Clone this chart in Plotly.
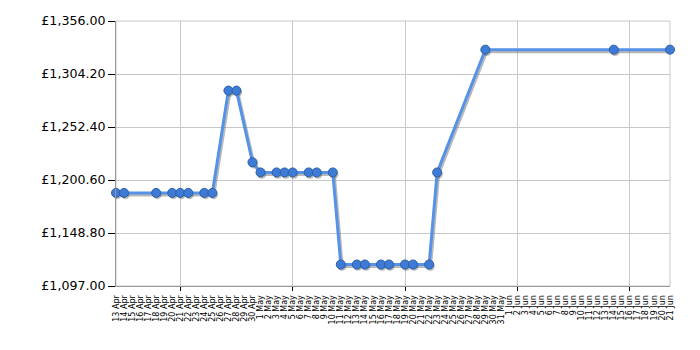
import plotly.graph_objects as go
import pandas as pd

dates = ["2024-04-13", "2024-04-14", "2024-04-18", "2024-04-20", "2024-04-21", "2024-04-22",
         "2024-04-24", "2024-04-25", "2024-04-27", "2024-04-28", "2024-04-30", "2024-05-01",
         "2024-05-03", "2024-05-04", "2024-05-05", "2024-05-07", "2024-05-08", "2024-05-10",
         "2024-05-11", "2024-05-13", "2024-05-14", "2024-05-16", "2024-05-17", "2024-05-19",
         "2024-05-20", "2024-05-22", "2024-05-23", "2024-05-29", "2024-06-14", "2024-06-21"]
prices = [1188, 1188, 1188, 1188, 1188, 1188,
          1188, 1188, 1288, 1288, 1218, 1208,
          1208, 1208, 1208, 1208, 1208, 1208,
          1118, 1118, 1118, 1118, 1118, 1118,
          1118, 1118, 1208, 1328, 1328, 1328]

y_ticks = [1097.00, 1148.80, 1200.60, 1252.40, 1304.20, 1356.00]
y_labels = ["£1,097.00", "£1,148.80", "£1,200.60", "£1,252.40", "£1,304.20", "£1,356.00"]

day_ticks = pd.date_range("2024-04-13", "2024-06-21", freq="D")
day_labels = [f"{d.day} {d.strftime('%b')}" for d in day_ticks]
grid_ticks = pd.date_range("2024-04-21", "2024-06-21", freq="14D")

x0, x1 = pd.Timestamp("2024-04-13"), pd.Timestamp("2024-06-21")
ymin, ymax = 1097.0, 1356.0
plot_w, plot_h = 555.0, 265.0
px_day = (x1 - x0) / plot_w   # timedelta per pixel
px_val = (ymax - ymin) / plot_h

fig = go.Figure()

# dummy trace on main axes
fig.add_trace(go.Scatter(x=[dates[0]], y=[prices[0]], mode="markers",
                         marker=dict(opacity=0), hoverinfo="skip", showlegend=False))

# shadow trace (on offset overlay axes x2/y2)
fig.add_trace(go.Scatter(
    x=dates, y=prices, mode="lines+markers", xaxis="x2", yaxis="y2",
    line=dict(color="rgba(100,100,100,0.45)", width=3.5),
    marker=dict(size=9, color="rgba(100,100,100,0.45)", line=dict(width=0)),
    cliponaxis=False, hoverinfo="skip", showlegend=False))

# main trace on x3 / y
fig.add_trace(go.Scatter(
    x=dates, y=prices, mode="lines+markers", xaxis="x3", yaxis="y",
    line=dict(color="#5592e8", width=3),
    marker=dict(size=9, color="#3d7bd6", line=dict(color="#2c5ea3", width=1)),
    cliponaxis=False, showlegend=False))

fig.update_layout(
    width=700, height=350,
    margin=dict(l=116, r=30, t=21, b=64),
    paper_bgcolor="white", plot_bgcolor="white",
    font=dict(family="DejaVu Sans, Verdana, sans-serif", color="#000"),
    xaxis=dict(
        type="date", range=[x0, x1],
        tickvals=list(day_ticks), ticktext=day_labels, tickangle=-90,
        tickfont=dict(size=8, family="DejaVu Sans, Verdana, sans-serif"),
        ticks="outside", ticklen=5, tickcolor="rgba(0,0,0,0)",
        showgrid=False, zeroline=False,
        showline=True, linecolor="#999999", linewidth=1,
    ),
    xaxis2=dict(
        type="date", range=[x0 - px_day * 1.2, x1 - px_day * 1.2], overlaying="x",
        anchor="y2", visible=False,
    ),
    xaxis3=dict(
        type="date", range=[x0, x1], overlaying="x", anchor="y",
        tickvals=list(grid_ticks), showticklabels=False,
        ticks="outside", ticklen=4, tickcolor="#000", tickwidth=1,
        showgrid=True, gridcolor="#c8c8c8", gridwidth=1, zeroline=False,
    ),
    yaxis=dict(
        range=[ymin, ymax], tickvals=y_ticks, ticktext=y_labels,
        tickfont=dict(size=12.6), ticks="outside", ticklen=7, tickcolor="#000",
        showgrid=True, gridcolor="#c8c8c8", gridwidth=1, zeroline=False,
        showline=True, linecolor="#999999", linewidth=1,
    ),
    yaxis2=dict(
        range=[ymin + px_val * 1.8, ymax + px_val * 1.8], overlaying="y",
        visible=False,
    ),
    shapes=[dict(type="rect", xref="paper", yref="paper", x0=0, x1=1, y0=0, y1=1,
                 line=dict(color="#c8c8c8", width=1), layer="below")],
)

fig.write_html("out.html")
